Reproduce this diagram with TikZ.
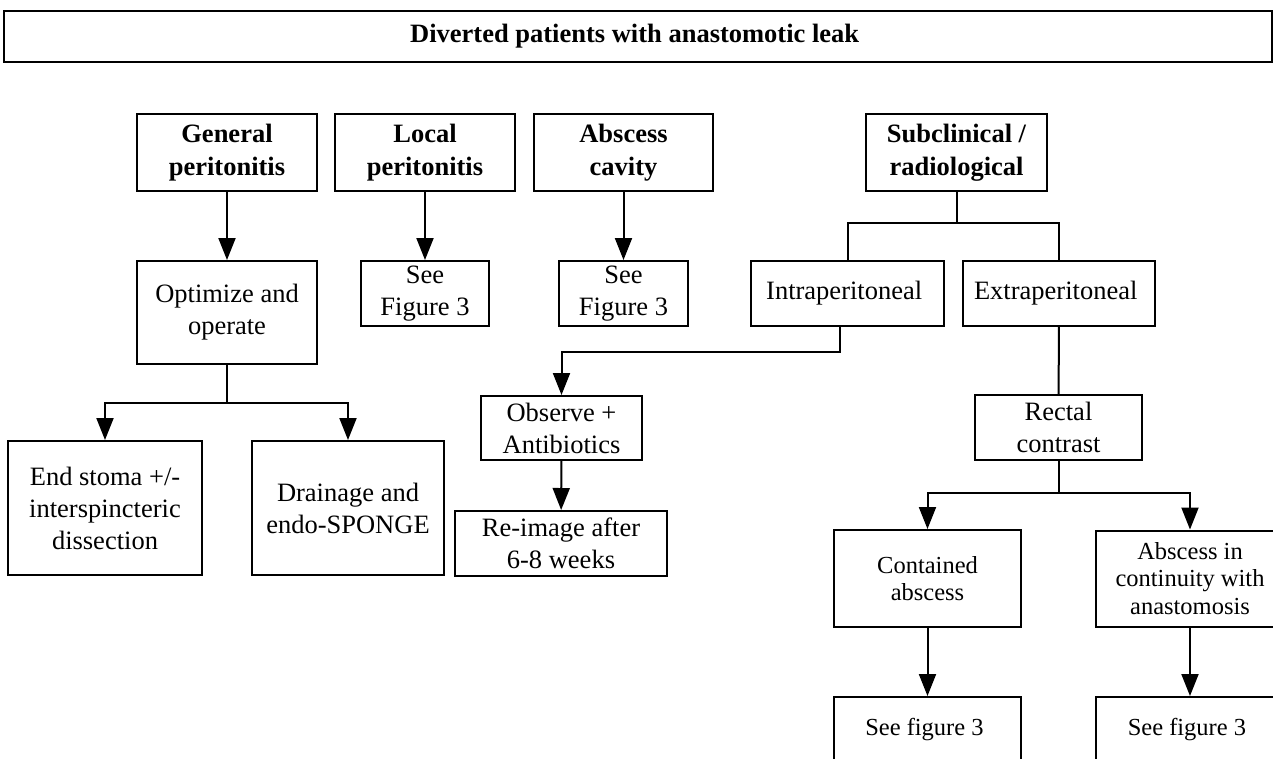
\documentclass[tikz,border=0pt]{standalone}
\usepackage{fontspec}
\setmainfont{Liberation Serif}
\usetikzlibrary{arrows.meta}

\begin{document}
\begin{tikzpicture}[x=1pt, y=-1pt,
    plainbox/.style={draw, line width=2pt, align=center, inner sep=0pt,
        font=\fontsize{26.5}{32}\selectfont},
    smallbox/.style={plainbox, font=\fontsize{24.5}{27.5}\selectfont},
    headbox/.style={plainbox, font=\fontsize{26.5}{33}\selectfont\bfseries},
    flow/.style={line width=2pt, -{Triangle[length=22pt, width=17pt]}},
    fork/.style={line width=2pt}]
            \useasboundingbox (0, 0) rectangle (1273, 758);
            \clip (0, 0) rectangle (1273, 758);

            \node[headbox, minimum width=1268pt, minimum height=51pt] (title) at (638, 36.5) { Diverted patients with anastomotic leak };

            \node[headbox, minimum width=180pt, minimum height=77pt] (gen) at (227, 152.5) { General\\peritonitis };
            \node[headbox, minimum width=180pt, minimum height=77pt] (loc) at (425, 152.5) { Local\\peritonitis };
            \node[headbox, minimum width=179pt, minimum height=77pt] (cav) at (623.5, 152.5) { Abscess\\cavity };
            \node[headbox, minimum width=181pt, minimum height=77pt] (sub) at (956.5, 152.5) { Subclinical /\\radiological };

            \node[plainbox, minimum width=180pt, minimum height=103pt] (opt) at (227, 312.5) { Optimize and\\operate };
            \node[plainbox, minimum width=128pt, minimum height=65pt] (seeloc) at (425, 293.5) { See\\Figure 3 };
            \node[plainbox, minimum width=129pt, minimum height=65pt] (seecav) at (623.5, 293.5) { See\\Figure 3 };
            \node[plainbox, minimum width=193pt, minimum height=65pt] (intra) at (847.5, 293.5) { Intraperitoneal };
            \node[plainbox, minimum width=192pt, minimum height=65pt] (extra) at (1059, 293.5) { Extraperitoneal };

            \node[plainbox, minimum width=194pt, minimum height=134pt] (stoma) at (105, 508) { End stoma +/-\\interspincteric\\dissection };
            \node[plainbox, minimum width=192pt, minimum height=134pt] (drain) at (348, 508) { Drainage and\\endo-SPONGE };
            \node[plainbox, minimum width=161pt, minimum height=64pt] (obs) at (561.5, 428) { Observe +\\Antibiotics };
            \node[plainbox, minimum width=212pt, minimum height=65pt] (reimg) at (561, 543.5) { Re-image after\\6-8 weeks };
            \node[plainbox, minimum width=167pt, minimum height=65pt] (rect) at (1058.5, 427.5) { Rectal\\contrast };

            \node[smallbox, minimum width=187pt, minimum height=97pt] (cont) at (927.5, 578.5) { Contained\\abscess };
            \node[smallbox, minimum width=188pt, minimum height=96pt] (cont2) at (1190, 578.5) { Abscess in\\continuity with\\anastomosis };
            \node[smallbox, minimum width=187pt, minimum height=66pt] (fig1) at (927.5, 730) { See figure 3 };
            \node[smallbox, minimum width=188pt, minimum height=66pt] (fig2) at (1190, 730) { See figure 3 };

            \draw[flow] (gen) -- (opt);
            \draw[flow] (loc) -- (seeloc);
            \draw[flow] (cav) -- (seecav);

            \draw[flow] (opt.south) -- ++(0, 38) -| (stoma.north);
            \draw[flow] (opt.south) -- ++(0, 38) -| (drain.north);

            \coordinate (subfork) at (956.5, 223);
            \draw[fork] (sub) -- (subfork);
            \draw[fork] (intra.north) |- (subfork) -| (extra.north);

            \draw[flow] ([xshift=-8pt]intra.south) -- ++(0, 25) -| (obs.north);
            \draw[flow] (obs) -- (reimg);

            \draw[fork] (extra) -- (rect);
            \draw[flow] (rect.south) -- ++(0, 32) -| (cont.north);
            \draw[flow] (rect.south) -- ++(0, 32) -| (cont2.north);

            \draw[flow] (cont) -- (fig1);
            \draw[flow] (cont2) -- (fig2);
        \end{tikzpicture}
\end{document}
